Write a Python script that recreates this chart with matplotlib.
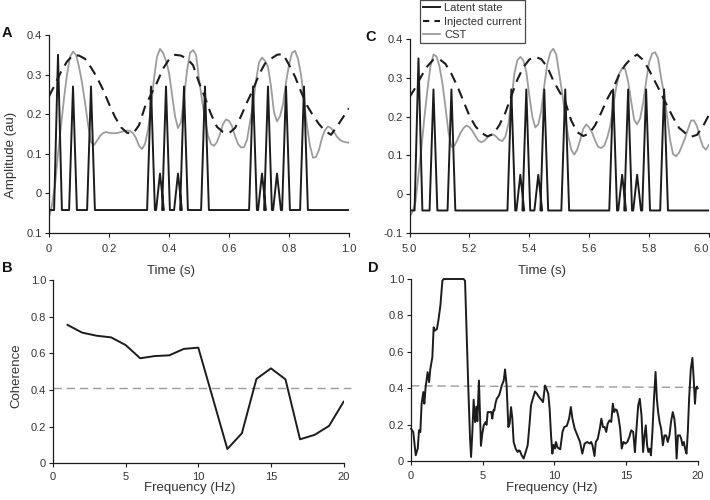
import matplotlib
matplotlib.use("Agg")
import matplotlib.pyplot as plt
import numpy as np
from matplotlib.lines import Line2D

plt.rcParams['font.family'] = ['Liberation Sans', 'DejaVu Sans']

# ---------------- data ----------------
# latent state: spike times (s, relative to window start) and heights
spike_times = [0.03, 0.08, 0.14, 0.34, 0.37, 0.39, 0.43, 0.45, 0.52,
               0.68, 0.71, 0.73, 0.76, 0.79, 0.85]
spike_heights = [0.35, 0.27, 0.27, 0.27, 0.05, 0.27, 0.05, 0.27, 0.27,
                 0.27, 0.05, 0.27, 0.05, 0.27, 0.27]
latent_baseline = -0.042

# injected current (dashed), sampled every 0.02 s
inj_t = [round(0.02 * i, 2) for i in range(51)]
inj_a = [0.245, 0.275, 0.307, 0.333, 0.349, 0.348, 0.340, 0.318, 0.293, 0.262,
         0.226, 0.193, 0.167, 0.153, 0.151, 0.172, 0.219, 0.250, 0.280, 0.315,
         0.338, 0.350, 0.348, 0.340, 0.324, 0.280, 0.242, 0.200, 0.168, 0.155,
         0.152, 0.165, 0.195, 0.230, 0.262, 0.300, 0.328, 0.340, 0.350, 0.352,
         0.325, 0.295, 0.257, 0.222, 0.197, 0.175, 0.158, 0.148, 0.169, 0.192,
         0.215]
inj_c = [0.250, 0.275, 0.305, 0.330, 0.347, 0.348, 0.336, 0.310, 0.278, 0.240,
         0.202, 0.175, 0.158, 0.149, 0.155, 0.178, 0.210, 0.253, 0.295, 0.327,
         0.347, 0.354, 0.348, 0.328, 0.293, 0.265, 0.238, 0.190, 0.160, 0.150,
         0.156, 0.178, 0.210, 0.245, 0.273, 0.308, 0.333, 0.350, 0.360, 0.346,
         0.320, 0.290, 0.260, 0.228, 0.198, 0.171, 0.158, 0.148, 0.153, 0.175,
         0.205]

# CST (gray), sampled every 0.01 s
cst_t = [round(0.01 * i, 2) for i in range(101)]
cst_a = [-0.060, -0.030, 0.020, 0.100, 0.170, 0.240, 0.300, 0.345, 0.358, 0.350,
         0.320, 0.280, 0.230, 0.175, 0.130, 0.122, 0.133, 0.145, 0.152, 0.155,
         0.153, 0.152, 0.152, 0.153, 0.155, 0.157, 0.159, 0.158, 0.152, 0.140,
         0.120, 0.112, 0.125, 0.160, 0.220, 0.290, 0.345, 0.365, 0.355, 0.335,
         0.305, 0.250, 0.195, 0.165, 0.180, 0.240, 0.310, 0.355, 0.362, 0.350,
         0.290, 0.235, 0.190, 0.145, 0.125, 0.120, 0.130, 0.150, 0.175, 0.187,
         0.183, 0.170, 0.145, 0.125, 0.116, 0.117, 0.135, 0.180, 0.225, 0.285,
         0.330, 0.343, 0.335, 0.320, 0.270, 0.205, 0.182, 0.195, 0.225, 0.280,
         0.325, 0.355, 0.360, 0.340, 0.300, 0.235, 0.170, 0.120, 0.090, 0.092,
         0.110, 0.140, 0.160, 0.169, 0.165, 0.155, 0.143, 0.135, 0.131, 0.129,
         0.128]
cst_c = [-0.060, -0.045, -0.020, 0.050, 0.120, 0.200, 0.270, 0.330, 0.360, 0.355,
         0.330, 0.285, 0.225, 0.160, 0.122, 0.125, 0.140, 0.158, 0.170, 0.177,
         0.173, 0.163, 0.150, 0.138, 0.134, 0.138, 0.146, 0.153, 0.154, 0.148,
         0.140, 0.137, 0.148, 0.180, 0.240, 0.310, 0.345, 0.354, 0.345, 0.315,
         0.255, 0.200, 0.172, 0.180, 0.215, 0.280, 0.335, 0.365, 0.375, 0.360,
         0.310, 0.260, 0.200, 0.150, 0.115, 0.102, 0.115, 0.140, 0.168, 0.180,
         0.172, 0.158, 0.138, 0.122, 0.119, 0.125, 0.145, 0.175, 0.225, 0.275,
         0.310, 0.325, 0.323, 0.290, 0.240, 0.192, 0.180, 0.195, 0.235, 0.290,
         0.340, 0.362, 0.366, 0.350, 0.300, 0.260, 0.200, 0.140, 0.103, 0.098,
         0.107, 0.125, 0.145, 0.168, 0.190, 0.190, 0.175, 0.145, 0.122, 0.115,
         0.128]

# panel B: coherence at integer frequencies
freq_b = [1, 2, 3, 4, 5, 6, 7, 8, 9, 10, 11, 12, 13, 14, 15, 16, 17, 18, 19, 20]
coh_b = [0.755, 0.713, 0.696, 0.687, 0.645, 0.573, 0.585, 0.589, 0.624, 0.631,
         0.355, 0.078, 0.164, 0.460, 0.518, 0.458, 0.131, 0.155, 0.204, 0.336]
sig_b_freq = [0, 20.5]
sig_b = [0.41, 0.41]

# panel D: coherence, fine frequency resolution
freq_d = [0, 0.16, 0.33, 0.47, 0.56, 0.65, 0.74, 0.86, 0.93, 1.02, 1.16, 1.26,
          1.35, 1.49, 1.58, 1.67, 1.81, 1.91, 2.05, 2.19, 2.28, 2.6, 3.0, 3.4,
          3.67, 3.77, 3.88, 4.0, 4.12, 4.19, 4.28, 4.37, 4.47, 4.56, 4.63, 4.74,
          4.88, 4.97, 5.07, 5.2, 5.27, 5.35, 5.51, 5.6, 5.67, 5.75, 5.81, 5.9,
          5.98, 6.14, 6.25, 6.33, 6.47, 6.56, 6.67, 6.79, 6.88, 6.98, 7.07, 7.16,
          7.3, 7.44, 7.52, 7.6, 7.72, 7.86, 8.0, 8.14, 8.28, 8.37, 8.53, 8.65,
          8.79, 8.93, 9.07, 9.21, 9.35, 9.49, 9.58, 9.67, 9.77, 9.86, 9.95, 10.05,
          10.11, 10.23, 10.41, 10.57, 10.69, 10.87, 11.03, 11.15, 11.26, 11.42,
          11.61, 11.79, 11.95, 12.11, 12.29, 12.48, 12.57, 12.66, 12.8, 12.89,
          13.03, 13.17, 13.28, 13.39, 13.51, 13.62, 13.72, 13.85, 13.97, 14.08,
          14.17, 14.27, 14.36, 14.47, 14.59, 14.7, 14.82, 14.95, 15.09, 15.23,
          15.36, 15.5, 15.62, 15.73, 15.85, 15.96, 16.08, 16.19, 16.29, 16.38,
          16.47, 16.56, 16.65, 16.74, 16.84, 16.95, 17.06, 17.15, 17.24, 17.34,
          17.45, 17.57, 17.68, 17.8, 17.91, 18.03, 18.14, 18.26, 18.37, 18.44,
          18.53, 18.62, 18.76, 18.85, 18.94, 19.03, 19.12, 19.22, 19.31, 19.4,
          19.52, 19.63, 19.72, 19.81, 19.88, 19.95, 20.0]
coh_d = [0.179, 0.160, 0.033, 0.070, 0.170, 0.160, 0.316, 0.380, 0.316, 0.407,
         0.489, 0.434, 0.507, 0.571, 0.735, 0.717, 0.726, 0.772, 0.854, 0.991,
         1.000, 1.000, 1.000, 1.000, 1.000, 0.990, 0.708, 0.398, 0.124, 0.024,
         0.160, 0.338, 0.215, 0.300, 0.220, 0.443, 0.085, 0.150, 0.197, 0.215,
         0.200, 0.270, 0.270, 0.270, 0.234, 0.280, 0.279, 0.320, 0.343, 0.361,
         0.390, 0.416, 0.443, 0.504, 0.416, 0.188, 0.206, 0.297, 0.234, 0.106,
         0.069, 0.051, 0.060, 0.057, 0.033, 0.015, 0.051, 0.088, 0.215, 0.307,
         0.352, 0.383, 0.370, 0.352, 0.339, 0.325, 0.416, 0.389, 0.370, 0.288,
         0.142, 0.042, 0.090, 0.070, 0.106, 0.075, 0.066, 0.161, 0.188, 0.194,
         0.234, 0.298, 0.234, 0.179, 0.142, 0.106, 0.042, 0.097, 0.106, 0.097,
         0.106, 0.088, 0.029, 0.106, 0.124, 0.179, 0.234, 0.188, 0.188, 0.161,
         0.206, 0.225, 0.216, 0.316, 0.270, 0.285, 0.280, 0.243, 0.179, 0.070,
         0.106, 0.097, 0.106, 0.133, 0.170, 0.161, 0.050, 0.179, 0.307, 0.343,
         0.252, 0.051, 0.142, 0.197, 0.088, 0.051, 0.069, 0.033, 0.161, 0.343,
         0.490, 0.343, 0.270, 0.216, 0.179, 0.088, 0.142, 0.142, 0.106, 0.142,
         0.216, 0.270, 0.234, 0.179, 0.015, 0.142, 0.142, 0.124, 0.088, 0.106,
         0.069, 0.042, 0.161, 0.343, 0.508, 0.567, 0.453, 0.316, 0.398, 0.410,
         0.400]
sig_d_freq = [0, 20]
sig_d = [0.414, 0.405]

ticks_a = [0, 0.2, 0.4, 0.6, 0.8, 1.0]
ticklabels_a = ["0", "0.2", "0.4", "0.6", "0.8", "1.0"]
ticklabels_c = ["5.0", "5.2", "5.4", "5.6", "5.8", "6.0"]
yticks_amp = [-0.1, 0, 0.1, 0.2, 0.3, 0.4]
yticklabels_a = ["0.1", "0", "0.1", "0.2", "0.3", "0.4"]
yticklabels_c = ["-0.1", "0", "0.1", "0.2", "0.3", "0.4"]
yticks_coh = [0, 0.2, 0.4, 0.6, 0.8, 1.0]
yticklabels_coh = ["0", "0.2", "0.4", "0.6", "0.8", "1.0"]
xticks_f = [0, 5, 10, 15, 20]

# ---------------- styling ----------------
DARK = "#1c1c1c"
GRAY = "#9c9c9c"
TXT = "#333333"
LABEL_FS = 9.5
spike_halfwidth = 0.013
INJ_DASH = (5.0, 3.3)


def latent_trace(offset):
    t = [offset]
    v = [latent_baseline]
    for st, h in zip(spike_times, spike_heights):
        t += [offset + st - spike_halfwidth, offset + st, offset + st + spike_halfwidth]
        v += [latent_baseline, h, latent_baseline]
    t.append(offset + 1.0)
    v.append(latent_baseline)
    return t, v


def style(ax, xpad=2):
    ax.patch.set_visible(False)
    for s in ["top", "right"]:
        ax.spines[s].set_visible(False)
    for s in ["left", "bottom"]:
        ax.spines[s].set_linewidth(0.9)
        ax.spines[s].set_color(DARK)
    ax.tick_params(direction="out", length=3, width=0.8, colors=DARK,
                   labelsize=8, labelcolor=TXT, pad=2)
    ax.tick_params(axis="x", pad=xpad)


fig = plt.figure(figsize=(7.1, 5.0), dpi=100)

axA = fig.add_axes([49 / 710, 1 - 233 / 500, 300 / 710, 198 / 500])
axC = fig.add_axes([409.5 / 710, 1 - 233 / 500, 299.5 / 710, 194 / 500])
axB = fig.add_axes([53 / 710, 1 - 463.3 / 500, 290.6 / 710, 183.3 / 500])
axD = fig.add_axes([411 / 710, 1 - 461.3 / 500, 286.7 / 710, 182.3 / 500])

for ax, off, inj, cst, xtl, ytl in [(axA, 0.0, inj_a, cst_a, ticklabels_a, yticklabels_a),
                                     (axC, 5.0, inj_c, cst_c, ticklabels_c, yticklabels_c)]:
    lt, lv = latent_trace(off)
    ax.plot(lt, lv, color=DARK, lw=1.4, zorder=3)
    ax.plot([off + x for x in inj_t], inj, color=DARK, lw=1.5,
            dashes=INJ_DASH, zorder=2)
    ax.plot([off + x for x in cst_t], cst, color=GRAY, lw=1.3, zorder=1)
    ax.set_xlim(off, off + 1.0)
    ax.set_ylim(-0.1, 0.4)
    ax.set_xticks([off + x for x in ticks_a])
    ax.set_xticklabels(xtl)
    ax.set_yticks(yticks_amp)
    ax.set_yticklabels(ytl)
    style(ax, xpad=5)

# keep the last C tick label inside the figure
axC.get_xticklabels()[-1].set_horizontalalignment("right")

axA.set_ylabel("Amplitude (au)", fontsize=LABEL_FS, color=TXT)
axA.yaxis.set_label_coords(-0.107, 0.394)
axA.set_xlabel("Time (s)", fontsize=LABEL_FS, color=TXT)
axA.xaxis.set_label_coords(0.407, -0.162)
axC.set_xlabel("Time (s)", fontsize=LABEL_FS, color=TXT)
axC.xaxis.set_label_coords(0.443, -0.165)

# Panel B
axB.plot(sig_b_freq, sig_b, color=GRAY, lw=1.0, dashes=(6, 3.5), clip_on=False)
axB.plot(freq_b, coh_b, color=DARK, lw=1.4)
axB.set_xlim(0, 20)
axB.set_ylim(0, 1.0)
axB.set_xticks(xticks_f)
axB.set_yticks(yticks_coh)
axB.set_yticklabels(yticklabels_coh)
style(axB, xpad=3)
axB.set_ylabel("Coherence", fontsize=LABEL_FS, color=TXT)
axB.yaxis.set_label_coords(-0.107, 0.48)
axB.set_xlabel("Frequency (Hz)", fontsize=LABEL_FS, color=TXT)
axB.xaxis.set_label_coords(0.472, -0.102)

# Panel D
axD.plot(sig_d_freq, sig_d, color=GRAY, lw=1.0, dashes=(6, 3.5), clip_on=False)
axD.plot(freq_d, coh_d, color=DARK, lw=1.4, clip_on=False)
axD.set_xlim(0, 20)
axD.set_ylim(0, 1.0)
axD.set_xticks(xticks_f)
axD.set_yticks(yticks_coh)
axD.set_yticklabels(yticklabels_coh)
style(axD, xpad=4)
axD.set_xlabel("Frequency (Hz)", fontsize=LABEL_FS, color=TXT)
axD.xaxis.set_label_coords(0.49, -0.114)

# Panel letters
for lab, x, y in [("A", 2, 33), ("B", 2, 268), ("C", 365, 37), ("D", 368, 268)]:
    fig.text(x / 710, 1 - y / 500, lab, fontsize=10.5, fontweight="bold",
             color="#111111", ha="left", va="center")

# Legend
handles = [Line2D([], [], color=DARK, lw=1.4),
           Line2D([], [], color=DARK, lw=1.5, dashes=(3.0, 2.5)),
           Line2D([], [], color=GRAY, lw=1.3)]
leg = fig.legend(handles, ["Latent state", "Injected current", "CST"],
                 loc="upper left", bbox_to_anchor=(420 / 710, 1.0),
                 frameon=True, fancybox=False, fontsize=8,
                 borderpad=0.3, labelspacing=0.3, handlelength=1.5,
                 handletextpad=0.35, borderaxespad=0.0)
leg.get_frame().set_edgecolor(DARK)
leg.get_frame().set_linewidth(0.9)
for t in leg.get_texts():
    t.set_color(TXT)

fig.savefig("out.png", dpi=100)
